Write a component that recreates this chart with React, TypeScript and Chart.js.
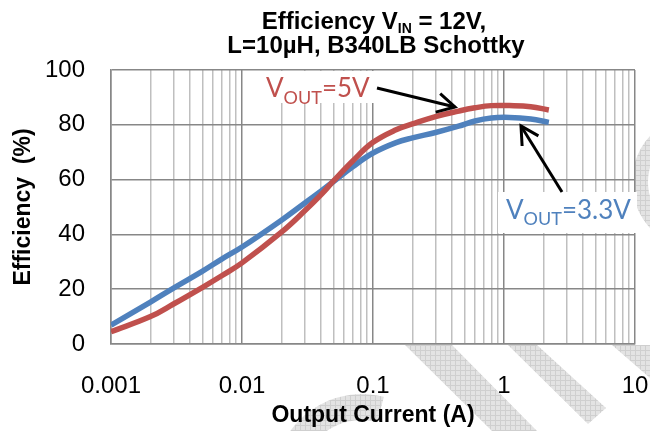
import React, { useEffect, useRef } from 'react';
import { Chart, registerables } from 'chart.js';

Chart.register(...registerables);

// ---- data ----
const currentA = [0.001, 0.002, 0.003, 0.005, 0.007, 0.01, 0.02, 0.03, 0.04, 0.05, 0.07, 0.1, 0.15, 0.2, 0.3, 0.45, 0.6, 0.8, 1.1, 1.6, 2.2];
const eff5V = [4.5, 10.0, 14.6, 20.7, 24.9, 29.6, 40.8, 48.5, 54.4, 59.5, 66.8, 73.6, 78.2, 80.3, 83.0, 85.0, 86.2, 87.0, 87.0, 86.6, 85.4];
const eff33V = [6.9, 15.3, 20.4, 26.6, 31.0, 35.4, 45.2, 51.4, 55.8, 59.3, 64.7, 69.7, 73.5, 75.2, 77.2, 79.5, 81.4, 82.5, 82.7, 82.1, 80.9];

const xDecades = [0.001, 0.01, 0.1, 1, 10];
const xDecadeLabels = ['0.001', '0.01', '0.1', '1', '10'];
const xMinorMultipliers = [2, 3, 4, 5, 6, 7, 8, 9];
const yMin = 0;
const yMax = 100;
const yStep = 20;

const titleLine1 = [{ t: 'Efficiency V', sub: false }, { t: 'IN', sub: true }, { t: ' = 12V,', sub: false }];
const titleLine2 = 'L=10µH, B340LB Schottky';
const xTitle = 'Output Current (A)';
const yTitle = 'Efficiency  (%)';
const label5V = [{ t: 'V', sub: false }, { t: 'OUT', sub: true }, { t: '=5V', sub: false }];
const label33V = [{ t: 'V', sub: false }, { t: 'OUT', sub: true }, { t: '=3.3V', sub: false }];

const RED = '#C0504D';
const BLUE = '#4F81BD';
const MAJOR = '#878787';
const MINOR = '#bfbfbf';
const FONT = "'Liberation Sans', Arial, sans-serif";
const LFONT = "Lato, 'Open Sans', sans-serif";

function buildXTicks() {
  const out: number[] = [];
  for (let i = 0; i < xDecades.length; i++) {
    out.push(xDecades[i]);
    if (i < xDecades.length - 1) {
      for (const m of xMinorMultipliers) out.push(parseFloat((xDecades[i] * m).toPrecision(6)));
    }
  }
  return out;
}

function decadeIndex(v: number) {
  for (let i = 0; i < xDecades.length; i++) {
    if (Math.abs(v - xDecades[i]) < xDecades[i] * 1e-6) return i;
  }
  return -1;
}

type Run = { t: string; sub: boolean };

function drawRuns(ctx: CanvasRenderingContext2D, runs: Run[], x: number, y: number, mainFont: string, subFont: string, subDy: number, align: 'left' | 'center') {
  let total = 0;
  for (const r of runs) {
    ctx.font = r.sub ? subFont : mainFont;
    total += ctx.measureText(r.t).width;
  }
  let cx = align === 'center' ? x - total / 2 : x;
  ctx.textAlign = 'left';
  ctx.textBaseline = 'alphabetic';
  for (const r of runs) {
    ctx.font = r.sub ? subFont : mainFont;
    ctx.fillText(r.t, cx, y + (r.sub ? subDy : 0));
    cx += ctx.measureText(r.t).width;
  }
}

function drawArrow(ctx: CanvasRenderingContext2D, x1: number, y1: number, x2: number, y2: number) {
  ctx.save();
  ctx.strokeStyle = '#000';
  ctx.lineWidth = 3;
  ctx.lineCap = 'butt';
  ctx.beginPath();
  ctx.moveTo(x1, y1);
  ctx.lineTo(x2, y2);
  ctx.stroke();
  const ang = Math.atan2(y2 - y1, x2 - x1);
  const len = 20;
  const spread = 0.5;
  ctx.beginPath();
  ctx.moveTo(x2 - len * Math.cos(ang - spread), y2 - len * Math.sin(ang - spread));
  ctx.lineTo(x2, y2);
  ctx.lineTo(x2 - len * Math.cos(ang + spread), y2 - len * Math.sin(ang + spread));
  ctx.stroke();
  ctx.restore();
}

function makeHatch(ctx: CanvasRenderingContext2D) {
  const c = document.createElement('canvas');
  c.width = 5;
  c.height = 5;
  const p = c.getContext('2d')!;
  p.fillStyle = '#e3e3e3';
  p.fillRect(0, 0, 5, 5);
  p.fillStyle = '#cfcfcf';
  p.fillRect(0, 0, 5, 1);
  p.fillRect(0, 0, 1, 5);
  return ctx.createPattern(c, 'repeat');
}

const backgroundPlugin = {
  id: 'bgWatermark',
  beforeDraw(chart: any) {
    const { ctx, chartArea } = chart;
    ctx.save();
    const pat = makeHatch(ctx);
    ctx.fillStyle = pat || '#e3e3e3';
    const polys = [
      [[405, 345], [452, 345], [537, 431], [492, 431]],
      [[508, 345], [537, 345], [606, 408], [588, 424]],
      [[612, 345], [650, 345], [650, 378]],
    ];
    for (const poly of polys) {
      ctx.beginPath();
      ctx.moveTo(poly[0][0], poly[0][1]);
      for (let i = 1; i < poly.length; i++) ctx.lineTo(poly[i][0], poly[i][1]);
      ctx.closePath();
      ctx.fill();
    }
    ctx.beginPath();
    ctx.arc(700, 182, 68, Math.PI * 0.6, Math.PI * 1.45);
    ctx.arc(700, 182, 52, Math.PI * 1.45, Math.PI * 0.6, true);
    ctx.closePath();
    ctx.fill();
    ctx.beginPath();
    ctx.arc(362, 482, 88, Math.PI * 1.1, Math.PI * 1.58);
    ctx.arc(362, 482, 62, Math.PI * 1.58, Math.PI * 1.1, true);
    ctx.closePath();
    ctx.fill();
    ctx.fillStyle = '#ffffff';
    ctx.fillRect(chartArea.left, chartArea.top, chartArea.right - chartArea.left, chartArea.bottom - chartArea.top);
    ctx.restore();
  },
};

const annotationPlugin = {
  id: 'annotations',
  afterDraw(chart: any) {
    const { ctx, chartArea } = chart;
    ctx.save();
    const cx = (chartArea.left + chartArea.right) / 2 + 1;
    ctx.fillStyle = '#000';
    drawRuns(ctx, titleLine1, cx, 29, `bold 24px ${FONT}`, `bold 14px ${FONT}`, 4, 'center');
    ctx.font = `bold 24px ${FONT}`;
    ctx.textAlign = 'center';
    ctx.fillText(titleLine2, cx + 2, 53);

    ctx.fillStyle = '#ffffff';
    ctx.fillRect(252, 71, 124, 32);
    ctx.fillRect(498, 192, 139, 41);

    ctx.fillStyle = RED;
    drawRuns(ctx, label5V, 266, 97, `26px ${LFONT}`, `18px ${LFONT}`, 6.5, 'left');
    ctx.fillStyle = BLUE;
    drawRuns(ctx, label33V, 506, 219, `26px ${LFONT}`, `18px ${LFONT}`, 6, 'left');

    drawArrow(ctx, 377, 88, 455, 107);
    drawArrow(ctx, 562, 192, 521, 126);
    ctx.restore();
  },
};

export default function App() {
  const ref = useRef<HTMLCanvasElement | null>(null);

  useEffect(() => {
    const canvas = ref.current;
    if (!canvas) return;
    const xTickValues = buildXTicks();
    const chart = new Chart(canvas, {
      type: 'line',
      data: {
        datasets: [
          {
            label: 'VOUT=5V',
            data: currentA.map((x, i) => ({ x, y: eff5V[i] })),
            borderColor: RED,
            backgroundColor: RED,
            borderWidth: 5.5,
            pointRadius: 0,
            tension: 0.4,
            fill: false,
          },
          {
            label: 'VOUT=3.3V',
            data: currentA.map((x, i) => ({ x, y: eff33V[i] })),
            borderColor: BLUE,
            backgroundColor: BLUE,
            borderWidth: 5.5,
            pointRadius: 0,
            tension: 0.4,
            fill: false,
          },
        ],
      },
      options: {
        responsive: false,
        maintainAspectRatio: false,
        animation: false,
        devicePixelRatio: 1,
        layout: { padding: { top: 70, right: 15, left: 0, bottom: 0 } },
        plugins: {
          legend: { display: false },
          tooltip: { enabled: false },
          title: { display: false },
        },
        scales: {
          x: {
            type: 'logarithmic',
            min: xDecades[0],
            max: xDecades[xDecades.length - 1],
            afterBuildTicks: (scale: any) => {
              scale.ticks = xTickValues.map((v) => ({ value: v }));
            },
            afterFit: (scale: any) => {
              scale.height = 87;
              scale.paddingLeft = 0;
              scale.paddingRight = 0;
            },
            ticks: {
              autoSkip: false,
              maxRotation: 0,
              minRotation: 0,
              padding: 28,
              color: '#000',
              font: { family: FONT, size: 24 },
              callback: (v: any) => {
                const i = decadeIndex(Number(v));
                return i >= 0 ? xDecadeLabels[i] : '';
              },
            },
            grid: {
              drawTicks: false,
              lineWidth: 1.5,
              color: (c: any) => (c.tick && decadeIndex(c.tick.value) >= 0 ? MAJOR : MINOR),
            },
            border: { display: true, color: MAJOR, width: 1.5 },
            title: {
              display: true,
              text: xTitle,
              color: '#000',
              font: { family: FONT, size: 23, weight: 'bold' },
              padding: { top: 0, bottom: 2 },
            },
          },
          y: {
            type: 'linear',
            min: yMin,
            max: yMax,
            afterFit: (scale: any) => {
              scale.width = 111;
              scale.paddingTop = 0;
              scale.paddingBottom = 0;
            },
            ticks: {
              stepSize: yStep,
              padding: 26,
              color: '#000',
              font: { family: FONT, size: 24 },
            },
            grid: { drawTicks: false, lineWidth: 1.5, color: MAJOR },
            border: { display: true, color: MAJOR, width: 1.5 },
            title: {
              display: true,
              text: yTitle,
              color: '#000',
              font: { family: FONT, size: 23, weight: 'bold' },
              padding: { top: 10, bottom: 0 },
            },
          },
        },
      },
      plugins: [backgroundPlugin, annotationPlugin],
    } as any);
    return () => chart.destroy();
  }, []);

  return (
    <div style={{ position: 'fixed', left: 0, top: 0, width: 650, height: 431, background: '#fff' }}>
      <canvas ref={ref} width={650} height={431} style={{ display: 'block' }} />
    </div>
  );
}
